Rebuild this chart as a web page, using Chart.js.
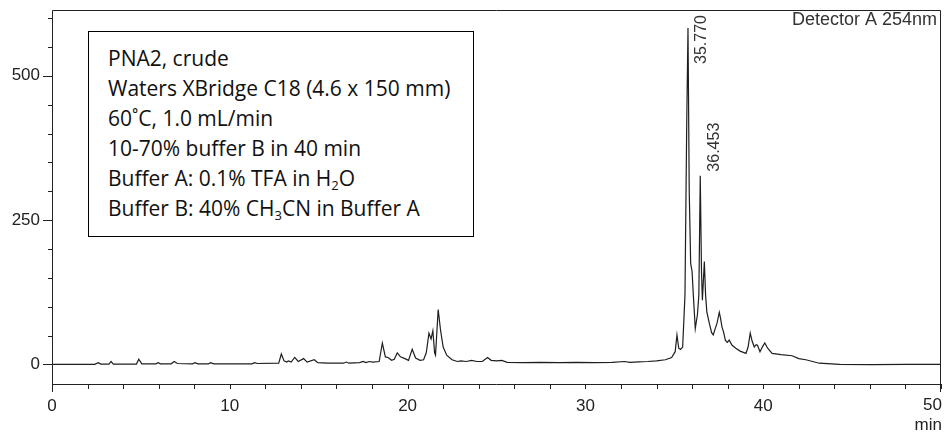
<!DOCTYPE html>
<html>
<head>
<meta charset="utf-8">
<script src="https://cdn.jsdelivr.net/npm/chart.js@4"></script>
<style>
  body { margin: 0; background: #fff; }
  #wrap { position: relative; width: 945px; height: 433px; }
  #note {
    position: absolute; left: 88px; top: 31px; width: 386px; height: 206px;
    box-sizing: border-box; border: 1.5px solid #000; background: #fff;
    padding: 11px 0 0 19px;
    font-family: "Open Sans", Lato, sans-serif; font-size: 21px; line-height: 30px; color: #111;
  }
  #note sub { font-size: 13px; line-height: 0; vertical-align: -4px; }
</style>
</head>
<body>
<div id="wrap">
  <canvas id="c" width="945" height="433"></canvas>
  <div id="note">
    PNA2, crude<br>
    Waters XBridge C18 (4.6 x 150 mm)<br>
    60˚C, 1.0 mL/min<br>
    10-70% buffer B in 40 min<br>
    Buffer A: 0.1% TFA in H<sub>2</sub>O<br>
    Buffer B: 40% CH<sub>3</sub>CN in Buffer A
  </div>
</div>
<script>
// retention time (min) and detector signal
const times = [
  0, 2.4, 2.6, 2.75, 3.2, 3.32, 3.45, 4.75, 4.88, 5.05, 5.85, 5.97, 6.1, 6.7, 6.87, 7.05,
  7.9, 8.05, 8.2, 8.8, 8.92, 9.1, 11.25, 11.4, 11.55, 12.75, 12.9, 13.05, 13.2, 13.3, 13.45,
  13.65, 13.85, 14.15, 14.35, 14.75, 14.95, 15.5, 16.4, 16.55, 16.7, 17.3, 17.5, 17.65, 17.85,
  18.05, 18.4, 18.58, 18.75, 18.9, 19.1, 19.25, 19.42, 19.6, 19.85, 20.05, 20.26, 20.45, 20.7,
  20.9, 21.05, 21.2, 21.32, 21.42, 21.52, 21.57, 21.72, 21.85, 22.0, 22.2, 22.5, 22.8, 23.0,
  23.3, 23.6, 23.9, 24.2, 24.5, 24.7, 25.0, 25.3, 25.6, 26.5, 27.5, 28.5, 29.5, 30.5, 31.5,
  32.2, 32.5, 33.0, 33.5, 34.0, 34.5, 34.85, 35.05, 35.15, 35.25, 35.35, 35.47, 35.6, 35.7,
  35.77, 35.84, 35.92, 36.0, 36.07, 36.18, 36.3, 36.38, 36.46, 36.53, 36.58, 36.69, 36.76,
  36.83, 36.97, 37.1, 37.19, 37.3, 37.4, 37.53, 37.6, 37.68, 37.78, 37.87, 37.98, 38.09,
  38.25, 38.46, 38.7, 39.03, 39.15, 39.27, 39.38, 39.5, 39.6, 39.68, 39.82, 39.95, 40.09,
  40.25, 40.5, 41.0, 41.63, 42.0, 42.4, 43.15, 44.3, 46.1, 48, 50
];
const signal = [
  0, 0, 3, 0.5, 0.5, 5, 0.5, 0.5, 9, 1, 1, 3, 1, 1, 5, 1.5,
  1, 3, 1, 1, 3, 1, 1, 3, 1.5, 2, 18, 6, 4, 6, 4,
  12, 5, 10, 4, 8, 3, 2, 2, 4, 2, 3, 5, 3, 5,
  4, 5, 37, 13, 12, 7, 9, 20, 13, 10, 7, 26, 11, 7,
  8, 20, 54, 44, 58, 20, 16, 95, 60, 30, 16, 8, 5, 6,
  5, 7, 5, 5, 12, 7, 6, 7, 3.5, 3, 3.5, 3, 3.5, 3, 3.5,
  5, 3.5, 4.5, 5, 6, 8, 12, 22, 51, 28, 26, 30, 120, 420,
  583, 300, 175, 161, 120, 62, 86, 120, 327, 160, 111, 178, 120,
  91, 71, 55, 51, 62, 71, 90, 80, 65, 55, 42, 38, 42,
  33, 28, 23, 19, 30, 54, 40, 30, 34, 33, 22, 30, 37,
  28, 19, 17, 15, 10, 8, 2, 0, -0.5, 0, 0
];
const peakTimes = [35.770, 36.453];
const peakLabels = ['35.770', '36.453'];
const yTickValues = [0, 50, 100, 150, 200, 250, 300, 350, 400, 450, 500, 550, 600];
const yLabelValues = [0, 250, 500];
const xTickValues = [0, 2, 4, 6, 8, 10, 12, 14, 16, 18, 20, 22, 24, 26, 28, 30, 32, 34, 36, 38, 40, 42, 44, 46, 48, 50];
const xLabelValues = [0, 10, 20, 30, 40];

const ink = '#222';
const fontFamily = '"Liberation Sans", Arial, sans-serif';

const decor = {
  id: 'decor',
  afterDraw(chart) {
    const ctx = chart.ctx;
    const a = chart.chartArea;
    const xs = chart.scales.x, ys = chart.scales.y;
    ctx.save();
    ctx.strokeStyle = ink;
    ctx.lineWidth = 1;
    // frame, with edge ticks running below the axis
    ctx.beginPath();
    ctx.moveTo(a.left + 0.5, a.bottom + 8);
    ctx.lineTo(a.left + 0.5, a.top + 0.5);
    ctx.lineTo(a.right - 0.5, a.top + 0.5);
    ctx.lineTo(a.right - 0.5, a.bottom + 8);
    ctx.moveTo(a.left, a.bottom + 0.5);
    ctx.lineTo(a.right, a.bottom + 0.5);
    // y ticks: long at labelled values, short every 50
    ys.ticks.forEach(t => {
      const py = Math.round(ys.getPixelForValue(t.value)) + 0.5;
      const len = yLabelValues.includes(t.value) ? 9 : 4;
      ctx.moveTo(a.left - len, py);
      ctx.lineTo(a.left, py);
    });
    // x ticks every 2 min
    xs.ticks.forEach(t => {
      const px = Math.round(xs.getPixelForValue(t.value)) + 0.5;
      ctx.moveTo(px, a.bottom);
      ctx.lineTo(px, a.bottom + 5);
    });
    ctx.stroke();

    ctx.fillStyle = ink;
    ctx.font = '17px ' + fontFamily;
    ctx.textAlign = 'right';
    ctx.textBaseline = 'middle';
    ctx.fillText('50', xs.getPixelForValue(50) + 1, 405);
    ctx.fillText('min', xs.getPixelForValue(50) + 1, 425);

    ctx.font = '18px ' + fontFamily;
    ctx.fillStyle = '#333';
    ctx.fillText('Detector A 254nm', a.right - 4, 20);

    // rotated retention-time labels beside each peak
    ctx.font = '16px ' + fontFamily;
    ctx.textAlign = 'left';
    peakTimes.forEach((pt, i) => {
      let top = Infinity;
      times.forEach((t, j) => { if (Math.abs(t - pt) < 0.02) top = ys.getPixelForValue(signal[j]); });
      const w = ctx.measureText(peakLabels[i]).width;
      const endY = Math.max(a.top + 5, top - 4 - w);
      ctx.save();
      ctx.translate(xs.getPixelForValue(pt) + 14, endY + w);
      ctx.rotate(-Math.PI / 2);
      ctx.fillText(peakLabels[i], 0, 0);
      ctx.restore();
    });
    ctx.restore();
  }
};

new Chart(document.getElementById('c'), {
  type: 'line',
  data: {
    datasets: [{
      data: times.map((t, i) => ({ x: t, y: signal[i] })),
      borderColor: '#1e1e1e',
      borderWidth: 1.2,
      pointRadius: 0,
      tension: 0,
      fill: false
    }]
  },
  options: {
    responsive: false,
    animation: false,
    devicePixelRatio: 1,
    layout: { padding: { top: 10, right: 4, left: 0, bottom: 0 } },
    plugins: { legend: { display: false }, tooltip: { enabled: false } },
    scales: {
      x: {
        type: 'linear',
        min: 0, max: 50,
        grid: { display: false, drawTicks: false },
        border: { display: false },
        afterBuildTicks(s) { s.ticks = xTickValues.map(v => ({ value: v })); },
        ticks: {
          autoSkip: false, maxRotation: 0, padding: 12,
          color: ink, font: { family: fontFamily, size: 17 },
          callback: v => xLabelValues.includes(v) ? String(v) : ''
        },
        afterFit(s) { s.height = 49; s.paddingLeft = 0; s.paddingRight = 0; }
      },
      y: {
        min: -34, max: 614,
        grid: { display: false, drawTicks: false },
        border: { display: false },
        afterBuildTicks(s) { s.ticks = yTickValues.map(v => ({ value: v })); },
        ticks: {
          autoSkip: false, padding: 12,
          color: ink, font: { family: fontFamily, size: 17 },
          callback: v => yLabelValues.includes(v) ? String(v) : ''
        },
        afterFit(s) { s.width = 52; s.paddingTop = 0; s.paddingBottom = 0; }
      }
    }
  },
  plugins: [decor]
});
</script>
</body>
</html>
